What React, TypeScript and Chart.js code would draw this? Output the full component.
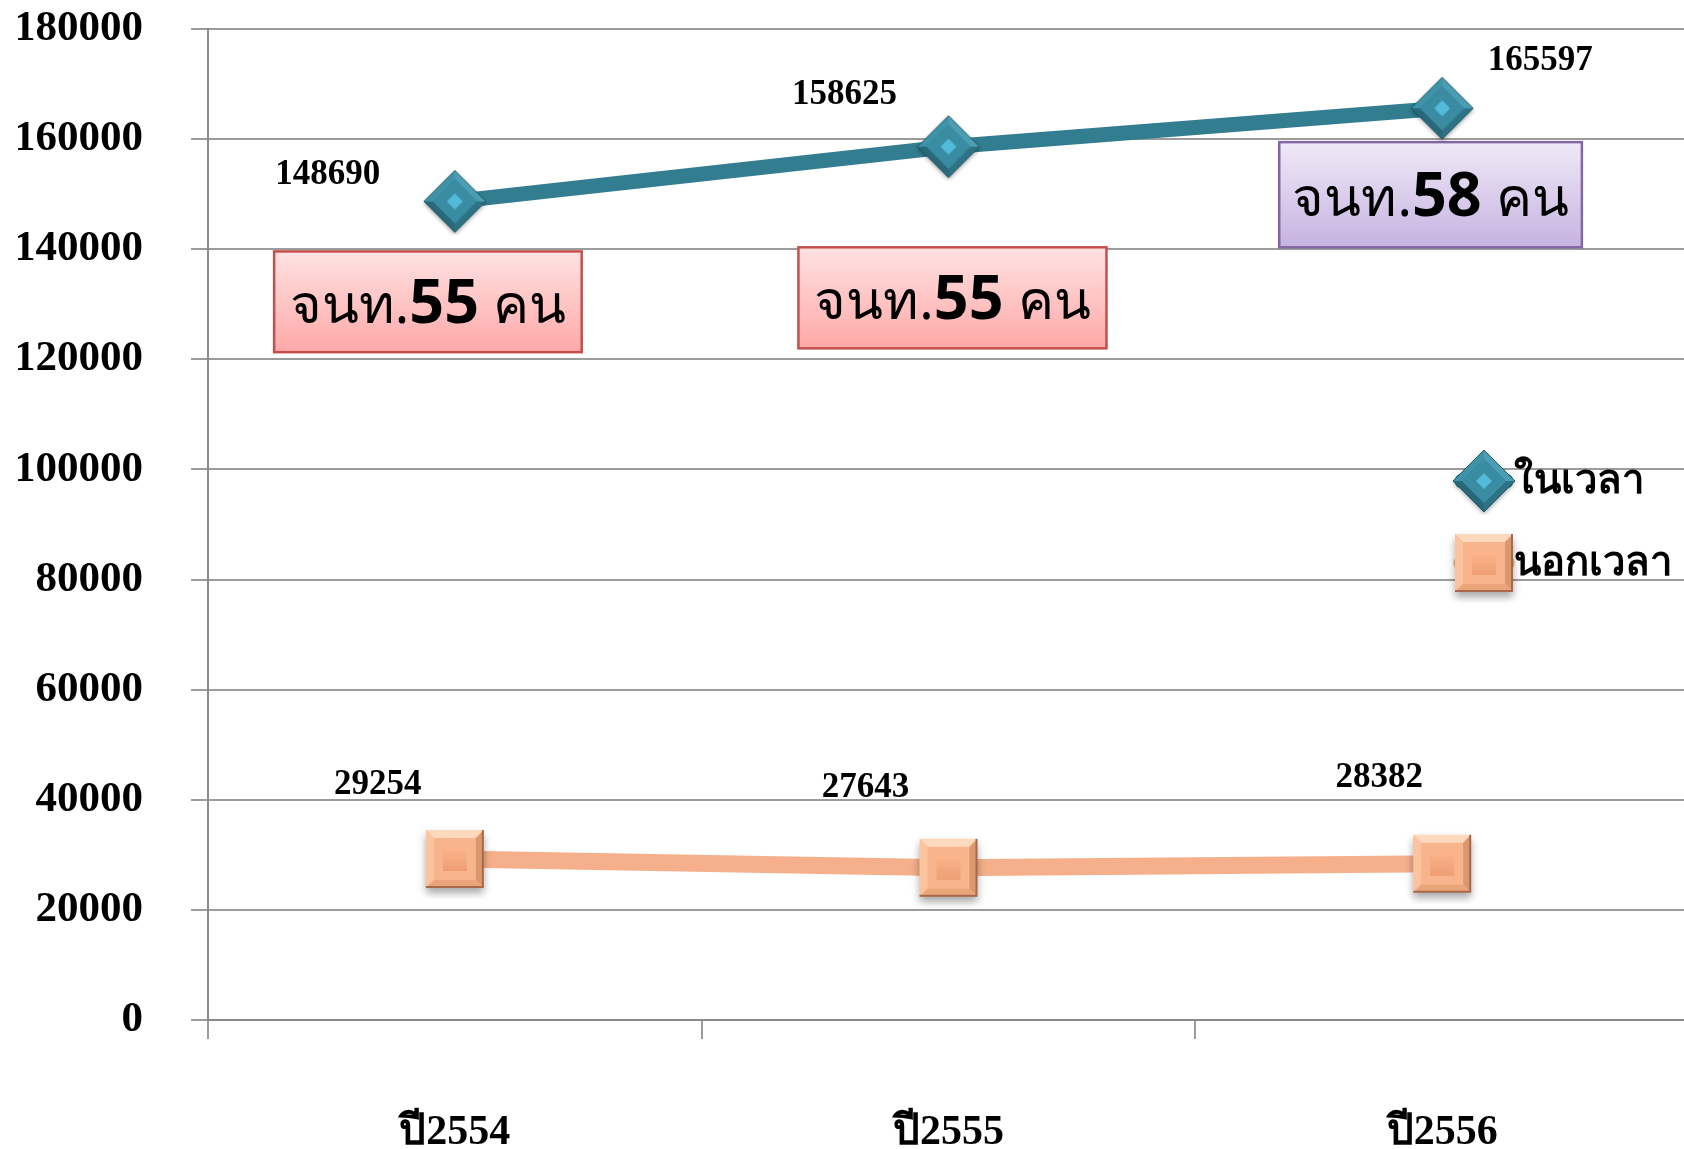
import React, { useEffect, useRef } from "react";
import { Chart, registerables } from "chart.js";

Chart.register(...registerables);

// ---------- data ----------
const categories = ["ปี2554", "ปี2555", "ปี2556"];
const inTimeLabel = "ในเวลา";
const outTimeLabel = "นอกเวลา";
const inTimeValues = [148690, 158625, 165597];
const outTimeValues = [29254, 27643, 28382];
const yTickValues = [0, 20000, 40000, 60000, 80000, 100000, 120000, 140000, 160000, 180000];
const staffCounts = [55, 55, 58];
const staffPrefix = "จนท.";
const staffSuffix = " คน";

// ---------- styling / placement (not data) ----------
const TEAL = "#327D90";
const PEACH = "#F5B08B";
const GRID = "#9C9C9C";
const AXIS = "#8A8A8A";
const SERIF = "'Liberation Serif', 'Times New Roman', serif";
const SANS = "'Noto Sans', 'DejaVu Sans', sans-serif";

// label offsets (px) relative to each point
const inLabelOffsets = [
  [-127, -26],
  [-104, -52],
  [98, -47],
];
const outLabelOffsets = [
  [-77, -74],
  [-83, -80],
  [-63, -86],
];

// staff boxes: category index, horizontal extent as fraction of a category band, value range
const staffBoxes = [
  { index: 0, from: -0.366, to: 0.257, top: 139600, bottom: 121300, theme: "red" },
  { index: 1, from: -0.304, to: 0.32, top: 140350, bottom: 122000, theme: "red" },
  { index: 2, from: -0.33, to: 0.283, top: 159450, bottom: 140350, theme: "purple" },
];

function makeDiamond(): HTMLCanvasElement {
  const c = document.createElement("canvas");
  c.width = 68;
  c.height = 68;
  const g = c.getContext("2d")!;
  const cx = 34, cy = 34, R = 31, r = 22, ri = 8;
  const outer = [
    [cx, cy - R],
    [cx + R, cy],
    [cx, cy + R],
    [cx - R, cy],
  ];
  const inner = [
    [cx, cy - r],
    [cx + r, cy],
    [cx, cy + r],
    [cx - r, cy],
  ];
  const facetColors = ["#4A9DB3", "#2E7385", "#286879", "#3F93A9"]; // TR, BR, BL, TL
  g.save();
  g.shadowColor = "rgba(0,0,0,0.35)";
  g.shadowBlur = 4;
  g.shadowOffsetY = 2;
  g.beginPath();
  outer.forEach((p, i) => (i ? g.lineTo(p[0], p[1]) : g.moveTo(p[0], p[1])));
  g.closePath();
  g.fillStyle = "#367F93";
  g.fill();
  g.restore();
  for (let i = 0; i < 4; i++) {
    const a = outer[i], b = outer[(i + 1) % 4], d = inner[(i + 1) % 4], e = inner[i];
    g.beginPath();
    g.moveTo(a[0], a[1]);
    g.lineTo(b[0], b[1]);
    g.lineTo(d[0], d[1]);
    g.lineTo(e[0], e[1]);
    g.closePath();
    g.fillStyle = facetColors[i];
    g.fill();
  }
  g.beginPath();
  inner.forEach((p, i) => (i ? g.lineTo(p[0], p[1]) : g.moveTo(p[0], p[1])));
  g.closePath();
  g.fillStyle = "#3A8CA2";
  g.fill();
  g.beginPath();
  g.moveTo(cx, cy - ri);
  g.lineTo(cx + ri, cy);
  g.lineTo(cx, cy + ri);
  g.lineTo(cx - ri, cy);
  g.closePath();
  g.fillStyle = "#52BBDA";
  g.fill();
  g.beginPath();
  outer.forEach((p, i) => (i ? g.lineTo(p[0], p[1]) : g.moveTo(p[0], p[1])));
  g.closePath();
  g.strokeStyle = "rgba(30,80,95,0.8)";
  g.lineWidth = 1;
  g.stroke();
  return c;
}

function makeSquare(): HTMLCanvasElement {
  const c = document.createElement("canvas");
  c.width = 80;
  c.height = 80;
  const g = c.getContext("2d")!;
  const S = 58, x0 = 40 - S / 2, y0 = 40 - S / 2, b = 8, inS = 24;
  g.save();
  g.shadowColor = "rgba(0,0,0,0.35)";
  g.shadowBlur = 8;
  g.shadowOffsetY = 5;
  g.fillStyle = "#F8B48C";
  g.fillRect(x0, y0, S, S);
  g.restore();
  const x1 = x0 + S, y1 = y0 + S;
  const facet = (pts: number[][], col: string) => {
    g.beginPath();
    pts.forEach((p, i) => (i ? g.lineTo(p[0], p[1]) : g.moveTo(p[0], p[1])));
    g.closePath();
    g.fillStyle = col;
    g.fill();
  };
  facet([[x0, y0], [x1, y0], [x1 - b, y0 + b], [x0 + b, y0 + b]], "#FFD9BD");
  facet([[x0, y0], [x0 + b, y0 + b], [x0 + b, y1 - b], [x0, y1]], "#FCC39F");
  facet([[x1, y0], [x1, y1], [x1 - b, y1 - b], [x1 - b, y0 + b]], "#DC976C");
  facet([[x0, y1], [x1, y1], [x1 - b, y1 - b], [x0 + b, y1 - b]], "#E9A47A");
  const ix = 40 - inS / 2, iy = 40 - inS / 2;
  const gr = g.createLinearGradient(0, iy, 0, iy + inS);
  gr.addColorStop(0, "#FDB58C");
  gr.addColorStop(1, "#EE9E74");
  g.fillStyle = gr;
  g.fillRect(ix, iy, inS, inS);
  g.strokeStyle = "#A8694A";
  g.lineWidth = 2;
  g.beginPath();
  g.moveTo(x1 - 1, y0);
  g.lineTo(x1 - 1, y1 - 1);
  g.lineTo(x0, y1 - 1);
  g.stroke();
  return c;
}

const valueLabelPlugin = {
  id: "valueLabels",
  afterDatasetsDraw(chart: any) {
    const { ctx } = chart;
    const offsets = [inLabelOffsets, outLabelOffsets];
    chart.data.datasets.forEach((ds: any, di: number) => {
      const meta = chart.getDatasetMeta(di);
      meta.data.forEach((pt: any, i: number) => {
        const [dx, dy] = offsets[di][i];
        ctx.save();
        ctx.font = `bold 35px ${SERIF}`;
        ctx.fillStyle = "#000";
        ctx.textAlign = "center";
        ctx.textBaseline = "middle";
        ctx.fillText(String(ds.data[i]), pt.x + dx, pt.y + dy);
        ctx.restore();
      });
    });
  },
};

const staffBoxPlugin = {
  id: "staffBoxes",
  beforeDatasetsDraw(chart: any) {
    const { ctx } = chart;
    const xs = chart.scales.x;
    const ys = chart.scales.y;
    const band = xs.getPixelForValue(1) - xs.getPixelForValue(0);
    staffBoxes.forEach((bx, i) => {
      const c = xs.getPixelForValue(bx.index);
      const l = c + bx.from * band;
      const r = c + bx.to * band;
      const t = ys.getPixelForValue(bx.top);
      const b = ys.getPixelForValue(bx.bottom);
      ctx.save();
      const gr = ctx.createLinearGradient(0, t, 0, b);
      if (bx.theme === "red") {
        gr.addColorStop(0, "#FFE2E2");
        gr.addColorStop(1, "#FFA8A8");
      } else {
        gr.addColorStop(0, "#EFE9F7");
        gr.addColorStop(1, "#C6B3E1");
      }
      ctx.fillStyle = gr;
      ctx.fillRect(l, t, r - l, b - t);
      ctx.strokeStyle = bx.theme === "red" ? "#C4504D" : "#8467A5";
      ctx.lineWidth = 2.5;
      ctx.strokeRect(l, t, r - l, b - t);
      const parts = [
        { text: staffPrefix, font: `54px ${SANS}` },
        { text: String(staffCounts[i]), font: `bold 61px ${SANS}` },
        { text: staffSuffix, font: `54px ${SANS}` },
      ];
      let total = 0;
      const widths = parts.map((p) => {
        ctx.font = p.font;
        const w = ctx.measureText(p.text).width;
        total += w;
        return w;
      });
      let x = (l + r) / 2 - total / 2;
      const y = (t + b) / 2 + 21;
      ctx.fillStyle = "#000";
      ctx.textBaseline = "alphabetic";
      ctx.textAlign = "left";
      parts.forEach((p, k) => {
        ctx.font = p.font;
        ctx.fillText(p.text, x, y);
        x += widths[k];
      });
      ctx.restore();
    });
  },
};

const insideLegendPlugin = {
  id: "insideLegend",
  afterDatasetsDraw(chart: any) {
    const { ctx, chartArea } = chart;
    chart.data.datasets.forEach((ds: any, i: number) => {
      const cx = chartArea.right - 205;
      const cy = chartArea.top + 452 + i * 82;
      ctx.save();
      ctx.strokeStyle = ds.borderColor;
      ctx.lineWidth = ds.borderWidth;
      ctx.lineCap = "round";
      ctx.beginPath();
      ctx.moveTo(cx - 22, cy);
      ctx.lineTo(cx + 22, cy);
      ctx.stroke();
      const img = ds.pointStyle as HTMLCanvasElement;
      ctx.drawImage(img, cx - img.width / 2, cy - img.height / 2);
      ctx.font = `bold 40px ${SERIF}`;
      ctx.fillStyle = "#000";
      ctx.textAlign = "left";
      ctx.textBaseline = "middle";
      ctx.fillText(ds.label, cx + 30, cy + 2);
      ctx.restore();
    });
  },
};

export default function App() {
  const ref = useRef<HTMLCanvasElement | null>(null);
  useEffect(() => {
    if (!ref.current) return;
    const diamond = makeDiamond();
    const square = makeSquare();
    const chart = new Chart(ref.current, {
      type: "line",
      data: {
        labels: categories,
        datasets: [
          {
            label: inTimeLabel,
            data: inTimeValues,
            borderColor: TEAL,
            backgroundColor: TEAL,
            borderWidth: 15,
            pointStyle: diamond as any,
            pointRadius: 31,
            tension: 0,
          },
          {
            label: outTimeLabel,
            data: outTimeValues,
            borderColor: PEACH,
            backgroundColor: PEACH,
            borderWidth: 17,
            pointStyle: square as any,
            pointRadius: 31,
            tension: 0,
          },
        ],
      },
      options: {
        responsive: false,
        animation: false,
        devicePixelRatio: 1,
        layout: { autoPadding: false, padding: { left: 18, right: 11, top: 29, bottom: 0 } },
        plugins: {
          legend: { display: false },
          tooltip: { enabled: false },
        },
        scales: {
          x: {
            type: "category",
            offset: true,
            grid: {
              offset: true,
              drawOnChartArea: false,
              drawTicks: true,
              tickLength: 19,
              color: GRID,
              lineWidth: 2,
            },
            border: { display: true, color: AXIS, width: 2 },
            ticks: {
              color: "#000",
              font: { family: SERIF, size: 42, weight: "bold" },
              padding: 69,
              maxRotation: 0,
            },
            afterFit: (s: any) => {
              s.height = 129;
              s.paddingLeft = 0;
              s.paddingRight = 0;
            },
          },
          y: {
            min: 0,
            max: 180000,
            afterBuildTicks: (s: any) => {
              s.ticks = yTickValues.map((v) => ({ value: v }));
            },
            ticks: {
              color: "#000",
              font: { family: SERIF, size: 43, weight: "bold" },
              padding: 48,
              callback: (v: any) => String(v),
            },
            grid: { color: GRID, lineWidth: 2, tickLength: 17 },
            border: { display: true, color: AXIS, width: 2 },
            afterFit: (s: any) => {
              s.width = 190;
              s.paddingTop = 0;
              s.paddingBottom = 0;
            },
          },
        },
      },
      plugins: [staffBoxPlugin, valueLabelPlugin, insideLegendPlugin],
    });
    return () => chart.destroy();
  }, []);
  return (
    <div
      style={{
        position: "absolute",
        left: 0,
        top: 0,
        width: 1684,
        height: 1149,
        overflow: "hidden",
        background: "#fff",
      }}
    >
      <canvas ref={ref} width={1700} height={1149} style={{ display: "block", width: 1700, height: 1149 }} />
    </div>
  );
}
